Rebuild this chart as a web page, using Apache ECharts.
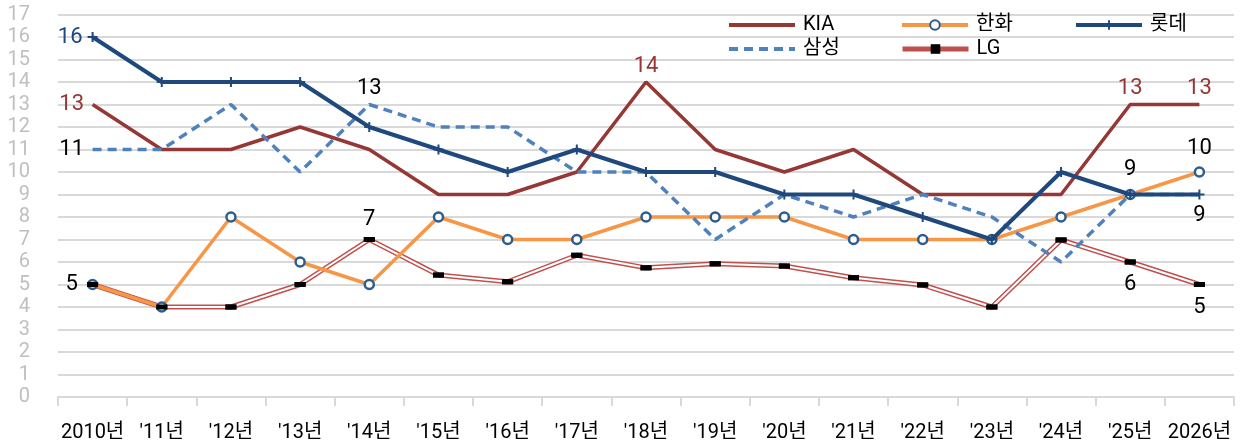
<!DOCTYPE html>
<html><head><meta charset="utf-8">
<script src="https://cdn.jsdelivr.net/npm/echarts@6/dist/echarts.min.js"></script>
<style>html,body{margin:0;padding:0;background:#fff}#c{width:1256px;height:447px}</style>
</head><body><div id="c"></div>
<script>
const categories = ["2010년","'11년","'12년","'13년","'14년","'15년","'16년","'17년","'18년","'19년","'20년","'21년","'22년","'23년","'24년","'25년","2026년"];
const kia     = [13,11,11,12,11,9,9,10,14,11,10,11,9,9,9,13,13];
const hanwha  = [5,4,8,6,5,8,7,7,8,8,8,7,7,7,8,9,10];
const lotte   = [16,14,14,14,12,11,10,11,10,10,9,9,8,7,10,9,9];
const samsung = [11,11,13,10,13,12,12,10,10,7,9,8,9,8,6,9,9];
const lg      = [5,4,4,5,7,5.42,5.12,6.3,5.74,5.92,5.82,5.3,4.98,4,6.98,6,5];
const yTicks  = [0,1,2,3,4,5,6,7,8,9,10,11,12,13,14,15,16,17];

const FONT = "Roboto,'Noto Sans CJK KR',sans-serif";
const C = {kia:'#953735', hanwha:'#F79646', lotte:'#1F497D', samsung:'#4F81BD', lg:'#C0504D'};

function withLabels(values, spec){
  return values.map((v,i)=>{
    const s = spec[i];
    if(!s) return v;
    return {value:v, label:{show:true, position:s.pos, distance:s.d===undefined?6:s.d, color:s.color||'#000',
      fontSize:22, fontFamily:FONT, formatter:'{c}'}};
  });
}

const plus = 'path://M4,0 H6 V4 H10 V6 H6 V10 H4 V6 H0 V4 H4 Z';
const clear = 'rgba(0,0,0,0)';

const option = {
  animation:false,
  grid:{left:58,right:22,top:14.5,bottom:50},
  legend:[
    {data:['KIA'], left:727, top:15, lineStyle:{width:4}},
    {data:['한화'], left:900, top:15, lineStyle:{width:4}},
    {data:['롯데'], left:1074, top:15, lineStyle:{width:4}},
    {data:['삼성'], left:727, top:39, lineStyle:{width:4}},
    {data:['LG'], left:900, top:39, lineStyle:{width:5}}
  ].map(l=>Object.assign(l,{itemWidth:66,itemHeight:12,itemGap:0,padding:0,
    textStyle:{fontSize:20,color:'#000',fontFamily:FONT,padding:[0,0,0,3]}})),
  xAxis:{type:'category',data:categories,boundaryGap:true,
    axisLine:{lineStyle:{color:'#D9D9D9',width:2}},
    axisTick:{show:true,length:9,lineStyle:{color:'#D9D9D9',width:2}},
    axisLabel:{color:'#000',fontSize:20,fontFamily:FONT,margin:26,interval:0}},
  yAxis:{type:'value',min:0,max:17,interval:1,
    axisLine:{show:false},axisTick:{show:false},
    axisLabel:{color:'#BFBFBF',fontSize:20,fontFamily:FONT,margin:28,
      formatter:v=>yTicks.includes(v)?String(v):''},
    splitLine:{lineStyle:{color:'#D9D9D9',width:2}}},
  series:[
    {name:'KIA',type:'line',z:3,data:withLabels(kia,{0:{pos:'left',color:C.kia,d:8},8:{pos:'top',color:C.kia,d:4},15:{pos:'top',color:C.kia,d:4},16:{pos:'top',color:C.kia,d:4}}),
      symbol:'circle',symbolSize:1,showAllSymbol:true,lineStyle:{color:C.kia,width:3.5},itemStyle:{color:clear}},
    {name:'LG',type:'line',z:1,data:lg,symbol:'rect',symbolSize:[11,5],showAllSymbol:true,
      lineStyle:{color:C.lg,width:5},itemStyle:{color:'#000'}},
    {name:'LG_in',type:'line',z:1,data:lg,symbol:'none',silent:true,
      lineStyle:{color:'#fff',width:2},itemStyle:{color:'#fff'}},
    {name:'한화',type:'line',z:2,data:withLabels(hanwha,{0:{pos:'left',d:9},15:{pos:'top',d:8},16:{pos:'top',d:7}}),
      symbol:'circle',symbolSize:9,showAllSymbol:true,
      lineStyle:{color:C.hanwha,width:3.5},itemStyle:{color:'#fff',borderColor:'#2C5D8F',borderWidth:2.5}},
    {name:'롯데',type:'line',z:4,data:withLabels(lotte,{0:{pos:'left',color:C.lotte,d:5}}),
      symbol:plus,symbolSize:10,showAllSymbol:true,
      lineStyle:{color:C.lotte,width:4},itemStyle:{color:C.lotte}},
    {name:'삼성',type:'line',z:3,data:withLabels(samsung,{0:{pos:'left',d:8},4:{pos:'top',d:4},16:{pos:'bottom',d:9}}),
      symbol:'circle',symbolSize:1,showAllSymbol:true,lineStyle:{color:C.samsung,width:3.5,type:[9,6]},itemStyle:{color:clear}},
    {name:'LG_mk',type:'line',z:6,data:withLabels(lg,{4:{pos:'top',d:6},15:{pos:'bottom',d:9},16:{pos:'bottom',d:9}}),
      symbol:'rect',symbolSize:[11,5],showAllSymbol:true,silent:true,
      lineStyle:{opacity:0},itemStyle:{color:'#000'}}
  ]
};
const chart = echarts.init(document.getElementById('c'),null,{renderer:'canvas'});
chart.setOption(option);
</script></body></html>
